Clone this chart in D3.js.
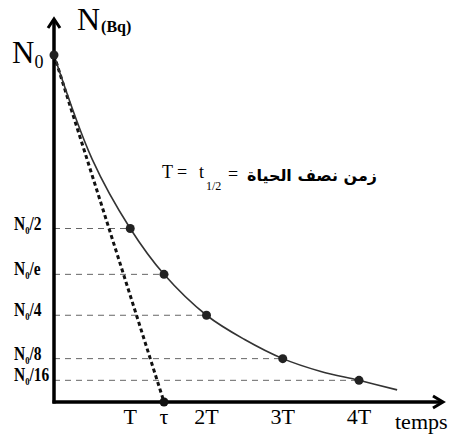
<!DOCTYPE html>
<html>
<head>
<meta charset="utf-8">
<script src="https://cdn.jsdelivr.net/npm/d3@7"></script>
<style>
	body { margin: 0; background: #fff; }
	svg { display: block; }
</style>
</head>
<body>
<div id="chart"></div>
<script>
/**
 * Data (time in units of T, activity in units of N0)
 */
var TAU = 1 / Math.LN2;

var curveTimes =	[0, 0.5, 1, TAU, 2, 2.5, 3, 3.5, 4, 4.5];
var curveValues =	[1, 0.70, 0.5, 1 / Math.E, 0.25, 0.18, 0.125, 0.088, 0.0625, 0.035];

var markTimes =		[0, 1, TAU, 2, 3, 4];
var markValues =	[1, 0.5, 1 / Math.E, 0.25, 0.125, 0.0625];

var levelDenoms =	['2', 'e', '4', '8', '16'];
var levelValues =	[0.5, 1 / Math.E, 0.25, 0.125, 0.0625];
var levelTimes =	[1, TAU, 2, 3, 4];

var tickTimes =		[1, TAU, 2, 3, 4];
var tickLabels =	['T', '\u03C4', '2T', '3T', '4T'];

/**
 * Layout
 */
var width = 454, height = 439;
var serif = "'Liberation Serif', 'DejaVu Serif', serif";

var x = d3.scaleLinear().domain([0, 4]).range([54, 359]);
var y = d3.scaleLinear().domain([0, 1]).range([402, 55]);

var svg = d3.select('#chart').append('svg')
	.attr('width', width)
	.attr('height', height)
	.style('background', '#fff');

// Guide lines (dashed, from axis to the point)
svg.append('g').selectAll('line')
	.data(levelValues)
	.enter().append('line')
	.attr('x1', x(0))
	.attr('x2', function(d, i) { return x(levelTimes[i]); })
	.attr('y1', function(d) { return y(d); })
	.attr('y2', function(d) { return y(d); })
	.attr('stroke', '#666')
	.attr('stroke-width', 1)
	.attr('stroke-dasharray', '6,5');

// Tangent at origin, crossing the axis at tau
svg.append('line')
	.attr('x1', x(0)).attr('y1', y(1))
	.attr('x2', x(TAU)).attr('y2', y(0))
	.attr('stroke', '#111')
	.attr('stroke-width', 3)
	.attr('stroke-dasharray', '4,3');

// Decay curve
var line = d3.line()
	.x(function(d) { return x(d[0]); })
	.y(function(d) { return y(d[1]); })
	.curve(d3.curveCatmullRom.alpha(0.5));

svg.append('path')
	.datum(d3.zip(curveTimes, curveValues))
	.attr('d', line)
	.attr('fill', 'none')
	.attr('stroke', '#333')
	.attr('stroke-width', 1.6);

// Axes
var axisY = y(0);
svg.append('line')
	.attr('x1', x(0)).attr('y1', axisY + 1.5)
	.attr('x2', x(0)).attr('y2', 19)
	.attr('stroke', '#000').attr('stroke-width', 3.5);
svg.append('path')
	.attr('d', 'M' + (x(0) - 6) + ',28 L' + x(0) + ',19 L' + (x(0) + 6) + ',28')
	.attr('fill', 'none').attr('stroke', '#000').attr('stroke-width', 3);

svg.append('line')
	.attr('x1', x(0) - 1.5).attr('y1', axisY)
	.attr('x2', 442).attr('y2', axisY)
	.attr('stroke', '#000').attr('stroke-width', 3.5);
svg.append('path')
	.attr('d', 'M433,' + (axisY - 6) + ' L443,' + axisY + ' L433,' + (axisY + 6))
	.attr('fill', 'none').attr('stroke', '#000').attr('stroke-width', 3);

// Points
svg.append('g').selectAll('circle')
	.data(markValues)
	.enter().append('circle')
	.attr('cx', function(d, i) { return x(markTimes[i]); })
	.attr('cy', function(d) { return y(d); })
	.attr('r', 4.5)
	.attr('fill', '#222');
svg.append('circle')
	.attr('cx', x(TAU)).attr('cy', axisY)
	.attr('r', 4.5).attr('fill', '#111');

// Time ticks
svg.append('g').selectAll('text')
	.data(tickLabels)
	.enter().append('text')
	.attr('x', function(d, i) { return x(tickTimes[i]); })
	.attr('y', 424)
	.attr('text-anchor', 'middle')
	.style('font-family', serif)
	.style('font-size', '22px')
	.text(function(d) { return d; });

svg.append('text')
	.attr('x', 395).attr('y', 429)
	.style('font-family', serif)
	.style('font-size', '22px')
	.text('temps');

// Level labels N0/k
var levels = svg.append('g').selectAll('g')
	.data(levelValues)
	.enter().append('g')
	.attr('transform', function(d) { return 'translate(14,' + (y(d) + 1) + ') scale(0.86,1)'; });
var lt = levels.append('text')
	.style('font-family', serif)
	.style('font-size', '18px')
	.style('font-weight', 'bold');
lt.append('tspan').text('N');
lt.append('tspan').attr('dy', 4).style('font-size', '10px').text('0');
lt.append('tspan').attr('dy', -4).text(function(d, i) { return '/' + levelDenoms[i]; });

// N0 at top of the axis
var n0 = svg.append('text')
	.attr('x', 12).attr('y', 63)
	.style('font-family', serif)
	.style('font-size', '31px');
n0.append('tspan').text('N');
n0.append('tspan').attr('dy', 5).style('font-size', '18px').text('0');

// Axis title
var yt = svg.append('text')
	.attr('x', 77).attr('y', 30)
	.style('font-family', serif);
yt.append('tspan').style('font-size', '32px').text('N');
yt.append('tspan').style('font-size', '16px').style('font-weight', 'bold')
	.attr('dx', 1).attr('dy', 2).text('(Bq)');

// Half-life note
var serif18 = function(sel) { return sel.style('font-family', serif).style('font-size', '18px'); };
svg.append('text').attr('x', 162).attr('y', 178).call(serif18).text('T');
svg.append('text').attr('x', 177).attr('y', 178).call(serif18).text('=');
svg.append('text').attr('x', 199).attr('y', 178).call(serif18).text('t');
svg.append('text')
	.attr('x', 206).attr('y', 190)
	.style('font-family', serif).style('font-size', '12px')
	.text('1/2');
svg.append('text').attr('x', 228).attr('y', 180).call(serif18).text('=');
svg.append('text')
	.attr('x', 247).attr('y', 181)
	.attr('textLength', 130)
	.attr('lengthAdjust', 'spacingAndGlyphs')
	.style('font-family', "'DejaVu Sans', sans-serif")
	.style('font-size', '16px')
	.style('font-weight', 'bold')
	.text('زمن  نصف الحياة');
</script>
</body>
</html>
